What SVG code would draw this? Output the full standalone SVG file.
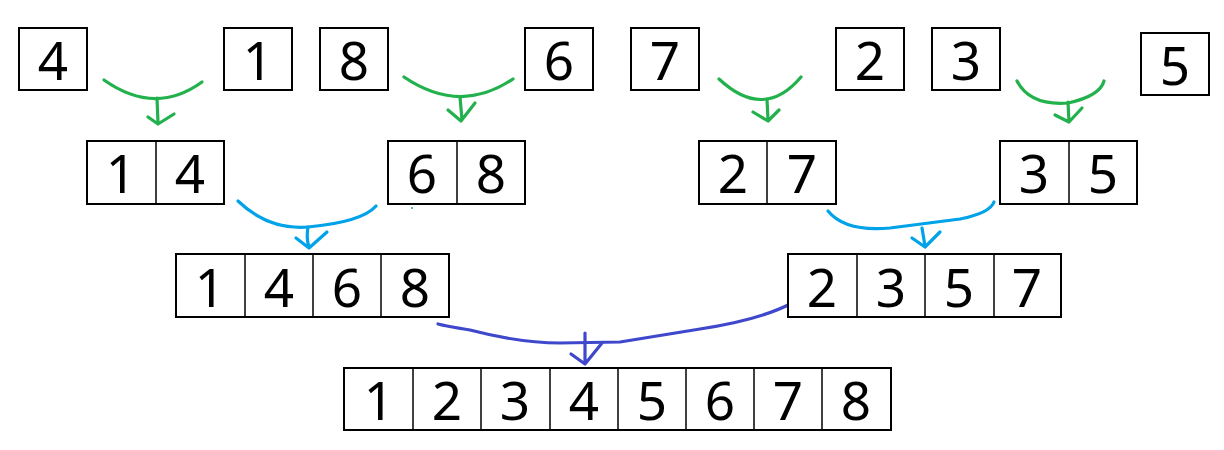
<svg xmlns="http://www.w3.org/2000/svg" width="1224" height="450" viewBox="0 0 1224 450">
<style>
.box{fill:#fff;stroke:#000;stroke-width:2}
.div{stroke:#000;stroke-width:1.5}
.t{font-family:"Noto Sans","Open Sans","Liberation Sans",sans-serif;font-size:53px;fill:#000;text-anchor:middle}
.g{fill:none;stroke:#22b14c;stroke-width:3.2;stroke-linecap:round;stroke-linejoin:round}
.b{fill:none;stroke:#00a2e8;stroke-width:3.2;stroke-linecap:round;stroke-linejoin:round}
.d{fill:none;stroke:#3f48cc;stroke-width:3.2;stroke-linecap:round;stroke-linejoin:round}
</style>
<rect width="1224" height="450" fill="#fff"/>
<g id="connectors">
<path class="g" d="M104,80 Q155,116 202,82"/>
<path class="g" d="M157,98 L158,123 M148,117 L158,124 L174,114"/>
<path class="g" d="M404,77 Q460,115 513,79"/>
<path class="g" d="M460,97 L462,120 M448,110 L461,121 L475,103"/>
<path class="g" d="M719,79 Q764,121 801,77"/>
<path class="g" d="M767,99 L768,120 M753,112 L768,121 L779,110"/>
<path class="g" d="M1017,81 Q1030,106 1068,103 Q1100,96 1104,81"/>
<path class="g" d="M1068,102 L1069,122 M1055,115 L1069,122 L1082,108"/>
<circle cx="412" cy="208" r="1" fill="#22b14c"/>
<path class="b" d="M238,201 Q268,230 308,227 Q362,222 376,206"/>
<path class="b" d="M308,227 Q306,238 309,247 M296,238 L309,248 L327,232"/>
<path class="b" d="M828,211 Q845,232 890,228 L960,219 Q990,213 994,202"/>
<path class="b" d="M922,228 L925,246 M912,238 L925,247 L940,232"/>
<path class="d" d="M438,324 Q445,326 470,330 Q520,343 560,343 L620,342 L700,329 Q760,320 792,303"/>
<path class="d" d="M585,333 L585,363 M571,354 L585,364 L602,343"/>
</g>
<g id="n4"><rect class="box" x="19" y="28" width="68" height="62"/><text class="t" x="53" y="80">4</text></g>
<g id="n1"><rect class="box" x="224" y="28" width="68" height="62"/><text class="t" x="258" y="80">1</text></g>
<g id="n8"><rect class="box" x="320" y="28" width="68" height="62"/><text class="t" x="354" y="80">8</text></g>
<g id="n6"><rect class="box" x="525" y="28" width="68" height="62"/><text class="t" x="559" y="80">6</text></g>
<g id="n7"><rect class="box" x="631" y="28" width="68" height="62"/><text class="t" x="665" y="80">7</text></g>
<g id="n2"><rect class="box" x="836" y="28" width="68" height="62"/><text class="t" x="870" y="80">2</text></g>
<g id="n3"><rect class="box" x="932" y="28" width="68" height="62"/><text class="t" x="966" y="80">3</text></g>
<g id="n5"><rect class="box" x="1141" y="33" width="68" height="62"/><text class="t" x="1175" y="85">5</text></g>
<g id="n14"><rect class="box" x="87" y="141" width="137" height="63"/><line class="div" x1="156" y1="141" x2="156" y2="204"/><text class="t" x="121" y="193">1</text><text class="t" x="190" y="193">4</text></g>
<g id="n68"><rect class="box" x="388" y="141" width="137" height="63"/><line class="div" x1="457" y1="141" x2="457" y2="204"/><text class="t" x="422" y="193">6</text><text class="t" x="491" y="193">8</text></g>
<g id="n27"><rect class="box" x="699" y="141" width="137" height="63"/><line class="div" x1="767" y1="141" x2="767" y2="204"/><text class="t" x="733" y="193">2</text><text class="t" x="802" y="193">7</text></g>
<g id="n35"><rect class="box" x="1000" y="141" width="137" height="63"/><line class="div" x1="1069" y1="141" x2="1069" y2="204"/><text class="t" x="1034" y="193">3</text><text class="t" x="1103" y="193">5</text></g>
<g id="n1468"><rect class="box" x="176" y="254" width="273" height="63"/><line class="div" x1="245" y1="254" x2="245" y2="317"/><line class="div" x1="313" y1="254" x2="313" y2="317"/><line class="div" x1="381" y1="254" x2="381" y2="317"/><text class="t" x="210" y="307">1</text><text class="t" x="279" y="307">4</text><text class="t" x="347" y="307">6</text><text class="t" x="415" y="307">8</text></g>
<g id="n2357"><rect class="box" x="788" y="254" width="273" height="63"/><line class="div" x1="857" y1="254" x2="857" y2="317"/><line class="div" x1="925" y1="254" x2="925" y2="317"/><line class="div" x1="994" y1="254" x2="994" y2="317"/><text class="t" x="822" y="307">2</text><text class="t" x="891" y="307">3</text><text class="t" x="959" y="307">5</text><text class="t" x="1027" y="307">7</text></g>
<g id="n12345678"><rect class="box" x="344" y="368" width="547" height="62"/><line class="div" x1="413" y1="368" x2="413" y2="430"/><line class="div" x1="481" y1="368" x2="481" y2="430"/><line class="div" x1="550" y1="368" x2="550" y2="430"/><line class="div" x1="618" y1="368" x2="618" y2="430"/><line class="div" x1="686" y1="368" x2="686" y2="430"/><line class="div" x1="754" y1="368" x2="754" y2="430"/><line class="div" x1="822" y1="368" x2="822" y2="430"/><text class="t" x="379" y="420">1</text><text class="t" x="447" y="420">2</text><text class="t" x="515" y="420">3</text><text class="t" x="584" y="420">4</text><text class="t" x="652" y="420">5</text><text class="t" x="720" y="420">6</text><text class="t" x="788" y="420">7</text><text class="t" x="856" y="420">8</text></g>
</svg>
